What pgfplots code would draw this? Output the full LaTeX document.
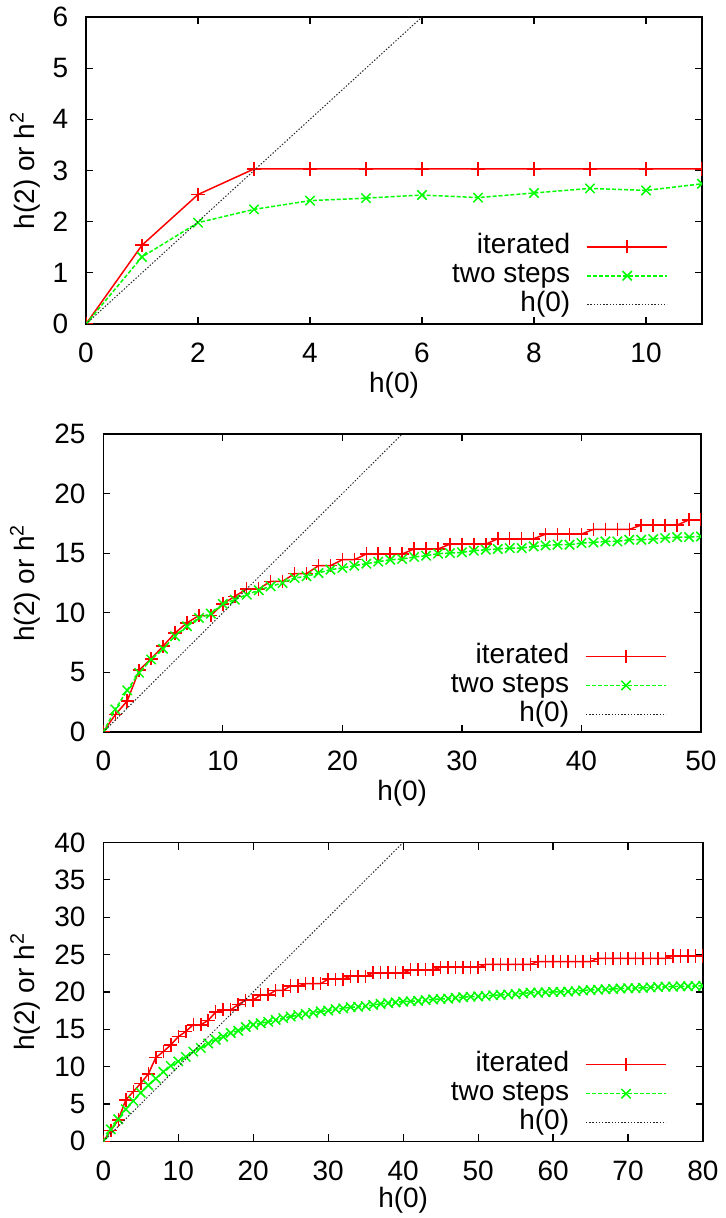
\documentclass[border=0pt]{standalone}
\usepackage{fontspec}
\setmainfont{Liberation Sans}
\usepackage{pgfplots}
\pgfplotsset{compat=1.18}
\newcommand{\gpfont}{\fontsize{14}{16.5}\selectfont}
\pgfplotsset{
  gp/.style={
    scale only axis,
    anchor=south west,
    font=\gpfont,
    axis line style={line width=0.75pt},
    tick align=inside,
    major tick length=3.5pt,
    tick style={line width=0.6pt, black},
    /pgf/number format/assume math mode=true,
    every x tick label/.append style={anchor=center, yshift=-14.6pt},
    every y tick label/.append style={anchor=east, xshift=-4pt},
    legend style={draw=none, fill=none, inner sep=0pt, font=\gpfont,
      nodes={inner xsep=2pt, inner ysep=0.75pt, text height=10pt, text depth=3pt},
      /tikz/every odd column/.append style={column sep=6.1pt}},
    legend cell align=right,
    legend plot pos=right,
    legend image code/.code={\draw[mark repeat=2,mark phase=2,##1] plot coordinates {(0pt,0pt)(20pt,0pt)(40pt,0pt)};},
    clip marker paths=true,
    xlabel={h(0)},
    ylabel={h(2) or h\textsuperscript{2}},
  },
  it/.style={color=red, line width=0.75pt, mark=+, mark size=3.3pt, mark options={solid}},
  ts/.style={color=green, line width=0.75pt, dash pattern=on 2pt off 1pt, mark=x, mark size=3.3pt, mark options={solid}},
  hz/.style={color=black!85, line width=0.5pt, dash pattern=on 0.7pt off 0.9pt},
}
\begin{document}
\gpfont
\begin{tikzpicture}[font=\gpfont]
\useasboundingbox (0,0) rectangle (362.5pt,609pt);

% ---------- panel 1 ----------
\begin{axis}[gp, at={(43pt,447pt)}, width=308pt, height=153.5pt,
  xmin=0, xmax=11, ymin=0, ymax=6, xtick={0,2,...,10}, ytick={0,1,...,6},
  legend style={at={(axis description cs:0.9454,0.014)}, anchor=south east},
  xlabel style={at={(axis description cs:0.5,0)}, anchor=center, yshift=-30.7pt},
  ylabel style={at={(axis description cs:-0.099,0.5)}, anchor=center}]
\addplot[it] coordinates {(0,0) (1,1.54) (2,2.53) (3,3.03) (4,3.03) (5,3.03) (6,3.03) (7,3.03) (8,3.03) (9,3.03) (10,3.03) (11,3.03)};
\addlegendentry{iterated}
\addplot[ts] coordinates {(0,0) (1,1.31) (2,1.98) (3,2.24) (4,2.41) (5,2.46) (6,2.52) (7,2.47) (8,2.56) (9,2.65) (10,2.61) (11,2.74)};
\addlegendentry{two steps}
\addplot[hz] coordinates {(0,0) (6,6)};
\addlegendentry{h(0)}
\end{axis}

% ---------- panel 2 ----------
\begin{axis}[gp, at={(51.65pt,243pt)}, width=298.85pt, height=149pt,
  xmin=0, xmax=50, ymin=0, ymax=25, xtick={0,10,...,50}, ytick={0,5,...,25},
  legend style={at={(axis description cs:0.9435,0.009)}, anchor=south east},
  xlabel style={at={(axis description cs:0.5,0)}, anchor=center, yshift=-30.5pt},
  ylabel style={at={(axis description cs:-0.131,0.5)}, anchor=center}]
\addplot[it] table {
0 0
1 1.45
2 2.6
3 5.19
4 6.14
5 7.2
6 8.31
7 9.15
8 9.77
9 9.77
10 10.74
11 11.38
12 12.0
13 12.0
14 12.64
15 12.64
16 13.28
17 13.28
18 13.95
19 13.95
20 14.45
21 14.45
22 14.93
23 14.93
24 14.93
25 14.93
26 15.35
27 15.35
28 15.35
29 15.76
30 15.76
31 15.76
32 15.76
33 16.21
34 16.21
35 16.21
36 16.21
37 16.6
38 16.6
39 16.6
40 16.6
41 17.0
42 17.0
43 17.0
44 17.0
45 17.35
46 17.35
47 17.35
48 17.35
49 17.8
50 17.8
};
\addlegendentry{iterated}
\addplot[ts] table {
0 0
1 1.9
2 3.5
3 4.97
4 6.08
5 6.98
6 8.04
7 8.87
8 9.57
9 9.93
10 10.74
11 11.1
12 11.52
13 11.89
14 12.22
15 12.5
16 12.92
17 13.06
18 13.34
19 13.62
20 13.76
21 13.95
22 14.12
23 14.29
24 14.45
25 14.51
26 14.68
27 14.79
28 14.96
29 15.01
30 15.07
31 15.21
32 15.29
33 15.35
34 15.43
35 15.43
36 15.57
37 15.65
38 15.71
39 15.71
40 15.85
41 15.9
42 15.99
43 15.99
44 16.13
45 16.13
46 16.18
47 16.27
48 16.35
49 16.35
50 16.4
};
\addlegendentry{two steps}
\addplot[hz] coordinates {(0,0) (25,25)};
\addlegendentry{h(0)}
\end{axis}

% ---------- panel 3 ----------
\begin{axis}[gp, at={(51.65pt,38.35pt)}, width=299.85pt, height=149.4pt,
  xmin=0, xmax=80, ymin=0, ymax=40, xtick={0,10,...,80}, ytick={0,5,...,40},
  legend style={at={(axis description cs:0.9403,0.0124)}, anchor=south east},
  xlabel style={at={(axis description cs:0.5,0)}, anchor=center, yshift=-29.5pt},
  ylabel style={at={(axis description cs:-0.1305,0.5)}, anchor=center}]
\addplot[it] table {
0 0
1 1.43
2 2.86
3 5.54
4 6.65
5 7.77
6 9.0
7 11.2
8 12.0
9 12.9
10 14.0
11 14.7
12 15.6
13 15.6
14 16.2
15 17.3
16 17.6
17 17.6
18 18.3
19 18.9
20 18.9
21 19.6
22 19.6
23 20.2
24 20.2
25 20.8
26 20.8
27 21.1
28 21.1
29 21.1
30 21.7
31 21.7
32 21.7
33 22.1
34 22.1
35 22.1
36 22.55
37 22.55
38 22.55
39 22.55
40 22.55
41 22.95
42 22.95
43 22.95
44 22.95
45 23.3
46 23.3
47 23.3
48 23.3
49 23.3
50 23.3
51 23.7
52 23.7
53 23.7
54 23.7
55 23.7
56 23.7
57 23.7
58 24.06
59 24.06
60 24.06
61 24.06
62 24.06
63 24.06
64 24.06
65 24.06
66 24.5
67 24.5
68 24.5
69 24.5
70 24.5
71 24.5
72 24.5
73 24.5
74 24.5
75 24.5
76 24.8
77 24.8
78 24.8
79 24.8
80 24.8
};
\addlegendentry{iterated}
\addplot[ts] table {
0 0
1 1.6
2 2.95
3 4.3
4 5.4
5 6.5
6 7.5
7 8.4
8 9.3
9 10.1
10 10.7
11 11.3
12 12.0
13 12.5
14 13.1
15 13.6
16 14.0
17 14.5
18 14.8
19 15.3
20 15.6
21 15.8
22 16.0
23 16.25
24 16.5
25 16.7
26 16.9
27 17.05
28 17.2
29 17.4
30 17.5
31 17.7
32 17.8
33 17.95
34 18.0
35 18.1
36 18.25
37 18.4
38 18.5
39 18.6
40 18.7
41 18.75
42 18.8
43 18.9
44 19.0
45 19.05
46 19.1
47 19.2
48 19.3
49 19.35
50 19.4
51 19.45
52 19.55
53 19.6
54 19.65
55 19.7
56 19.8
57 19.9
58 19.9
59 19.95
60 20.0
61 20.0
62 20.05
63 20.1
64 20.2
65 20.25
66 20.3
67 20.35
68 20.4
69 20.45
70 20.5
71 20.5
72 20.55
73 20.6
74 20.65
75 20.7
76 20.7
77 20.75
78 20.75
79 20.8
80 20.8
};
\addlegendentry{two steps}
\addplot[hz] coordinates {(0,0) (40,40)};
\addlegendentry{h(0)}
\end{axis}
\end{tikzpicture}
\end{document}
